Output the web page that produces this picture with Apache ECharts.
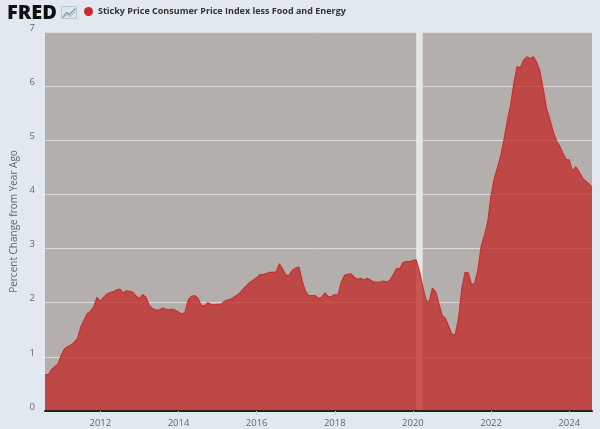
<!DOCTYPE html>
<html>
<head>
<meta charset="utf-8">
<script src="https://cdn.jsdelivr.net/npm/echarts@6/dist/echarts.min.js"></script>
<style>
  html, body { margin: 0; padding: 0; background: #e1e8f0; }
  #main { width: 600px; height: 429px; }
</style>
</head>
<body>
<div id="main"></div>
<script>
// monthly, Aug 2010 .. Aug 2024
let startYear = 2010, startMonth = 8

// percent change from year ago
let values = [
    0.67, 0.67, 0.76, 0.82, 0.87,                                     // 2010 Aug-Dec
    1.03, 1.15, 1.19, 1.22, 1.27, 1.34, 1.55, 1.68, 1.80, 1.84, 1.93, 2.10, // 2011
    2.02, 2.10, 2.16, 2.19, 2.20, 2.24, 2.25, 2.18, 2.22, 2.21, 2.19, 2.12, // 2012
    2.08, 2.15, 2.10, 1.95, 1.89, 1.87, 1.86, 1.90, 1.88, 1.87, 1.88, 1.86, // 2013
    1.83, 1.79, 1.82, 2.05, 2.12, 2.13, 2.08, 1.95, 1.94, 2.00, 1.97, 1.96, // 2014
    1.97, 1.97, 2.02, 2.05, 2.06, 2.10, 2.14, 2.19, 2.26, 2.32, 2.38, 2.42, // 2015
    2.46, 2.52, 2.52, 2.54, 2.56, 2.56, 2.57, 2.72, 2.62, 2.50, 2.51, 2.60, // 2016
    2.64, 2.66, 2.40, 2.21, 2.13, 2.13, 2.13, 2.08, 2.10, 2.18, 2.11, 2.12, // 2017
    2.15, 2.14, 2.38, 2.50, 2.53, 2.53, 2.47, 2.43, 2.45, 2.42, 2.45, 2.42, // 2018
    2.38, 2.38, 2.38, 2.40, 2.38, 2.42, 2.52, 2.63, 2.63, 2.74, 2.76, 2.76, // 2019
    2.78, 2.79, 2.58, 2.30, 2.05, 2.01, 2.27, 2.20, 1.98, 1.76, 1.71, 1.56, // 2020
    1.41, 1.41, 1.70, 2.25, 2.56, 2.55, 2.33, 2.36, 2.62, 3.05, 3.25, 3.50, // 2021
    3.98, 4.30, 4.50, 4.72, 5.02, 5.36, 5.65, 6.05, 6.36, 6.34, 6.48, 6.54, // 2022
    6.51, 6.54, 6.44, 6.28, 5.95, 5.60, 5.40, 5.18, 5.00, 4.90, 4.77, 4.65, // 2023
    4.64, 4.42, 4.51, 4.42, 4.31, 4.25, 4.20, 4.13                    // 2024 Jan-Aug
]

let recession = ['2020-02', '2020-04']

let months = []
for (let i = 0; i < values.length; i++) {
    let m = startMonth - 1 + i
    let y = startYear + Math.floor(m / 12)
    let mm = (m % 12) + 1
    months.push(y + '-' + (mm < 10 ? '0' + mm : mm))
}

// label only Jan of even years
let showYear = (idx, val) => val.slice(5) === '01' && (+val.slice(0, 4)) % 2 === 0

let myChart = echarts.init(document.getElementById('main'))

myChart.setOption({
    backgroundColor: '#e1e8f0',
    textStyle: { fontFamily: 'Open Sans' },
    animation: false,
    grid: {
        left: 45, right: 8, top: 32, bottom: 18,
        show: true,
        backgroundColor: '#b4aeac',
        borderWidth: 0
    },
    legend: {
        left: 84, top: 7,
        padding: 0,
        icon: 'circle',
        itemWidth: 9, itemHeight: 9,
        data: ['Sticky Price Consumer Price Index less Food and Energy'],
        textStyle: { fontSize: 9, fontWeight: 'bold', color: '#333', fontFamily: 'Open Sans' }
    },
    graphic: [
        {
            type: 'text', left: 7, top: 3,
            style: { text: 'FRED', font: '800 20px "Open Sans"', fill: '#111' }
        },
        {
            type: 'group', left: 60, top: 6,
            children: [
                { type: 'rect', shape: { x: 0, y: 0, width: 15, height: 12 }, style: { fill: '#dde6ee', stroke: '#b9c7d6', lineWidth: 1 } },
                { type: 'polyline', shape: { points: [[1, 11], [5, 6], [8, 8], [14, 2]] }, style: { stroke: '#6d9bc3', lineWidth: 1.2, fill: null } },
                { type: 'polyline', shape: { points: [[1, 11], [6, 8], [9, 10], [14, 5]] }, style: { stroke: '#9ab86a', lineWidth: 1, fill: null } }
            ]
        }
    ],
    xAxis: {
        type: 'category',
        data: months,
        boundaryGap: false,
        z: 5,
        axisLine: { lineStyle: { color: '#222', width: 2 } },
        axisTick: { show: true, interval: showYear, length: 4, lineStyle: { color: '#c9cfd6' } },
        axisLabel: {
            interval: showYear,
            formatter: v => v.slice(0, 4),
            color: '#666', fontSize: 9.5, margin: 7
        },
        splitLine: { show: false }
    },
    yAxis: {
        type: 'value',
        min: 0, max: 7, interval: 1,
        name: 'Percent Change from Year Ago',
        nameLocation: 'middle',
        nameGap: 22,
        nameTextStyle: { color: '#666', fontSize: 10 },
        axisLine: { show: false },
        axisTick: { show: false },
        axisLabel: { color: '#666', fontSize: 9.5, margin: 10, verticalAlign: 'bottom', lineHeight: 8 },
        splitLine: { lineStyle: { color: '#dedada', width: 1 } }
    },
    series: [
        {
            name: 'recession',
            type: 'line',
            data: [],
            z: 1,
            silent: true,
            markArea: {
                silent: true,
                itemStyle: { color: '#e6e6e6' },
                data: [[{ xAxis: recession[0] }, { xAxis: recession[1] }]]
            }
        },
        {
            name: 'Sticky Price Consumer Price Index less Food and Energy',
            type: 'line',
            data: values,
            z: 2,
            symbol: 'none',
            itemStyle: { color: '#cc2a2a' },
            lineStyle: { color: '#c9302e', width: 1.2 },
            areaStyle: { color: 'rgba(192,40,38,0.76)', opacity: 1 }
        }
    ]
})
</script>
</body>
</html>
